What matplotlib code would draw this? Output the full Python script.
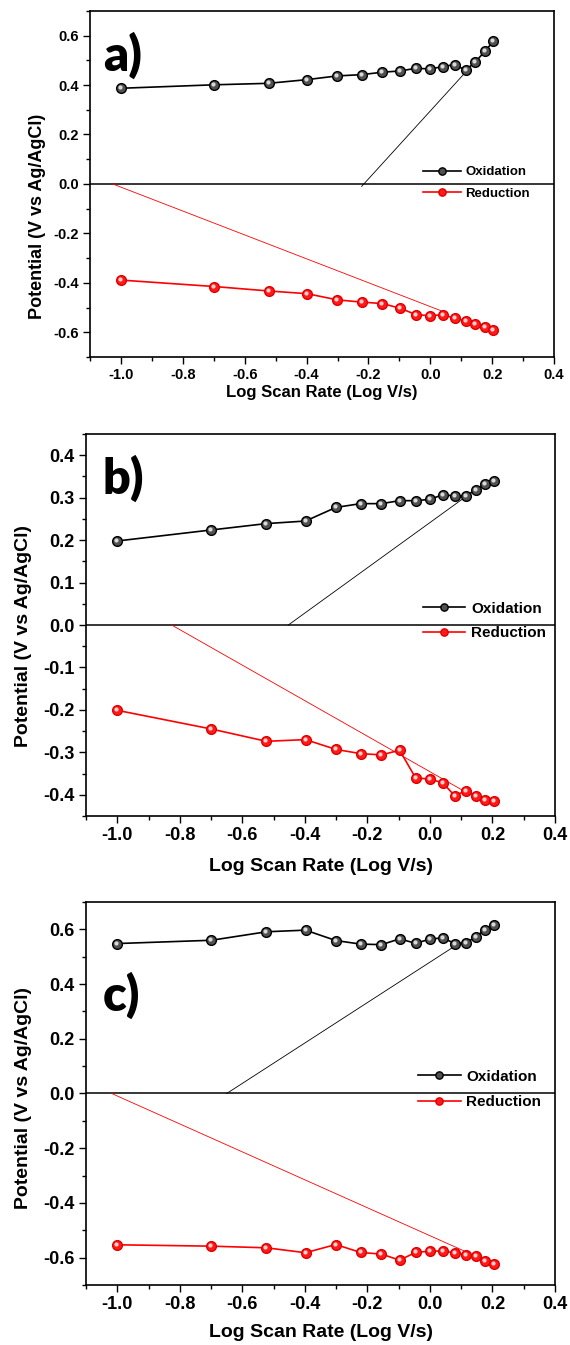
import matplotlib
matplotlib.use("Agg")
import matplotlib.pyplot as plt
from matplotlib.ticker import MultipleLocator
from matplotlib.transforms import offset_copy

# log of scan rate (shared by all three panels)
log_rate = [-1.0, -0.699, -0.523, -0.398, -0.301, -0.222, -0.155, -0.097,
            -0.046, 0.0, 0.041, 0.079, 0.114, 0.146, 0.176, 0.204]

# panel a
ox_a = [0.387, 0.401, 0.407, 0.422, 0.437, 0.442, 0.452, 0.457,
        0.468, 0.465, 0.475, 0.483, 0.460, 0.494, 0.536, 0.577]
red_a = [-0.389, -0.415, -0.433, -0.444, -0.469, -0.478, -0.484, -0.503,
         -0.529, -0.533, -0.529, -0.544, -0.554, -0.566, -0.577, -0.592]
tan_ox_a = ([-0.222, 0.114], [-0.010, 0.452])
tan_red_a = ([-1.027, 0.045], [0.0, -0.518])

# panel b
ox_b = [0.198, 0.224, 0.239, 0.245, 0.277, 0.286, 0.286, 0.293,
        0.293, 0.296, 0.307, 0.304, 0.304, 0.318, 0.332, 0.340]
red_b = [-0.201, -0.245, -0.274, -0.270, -0.293, -0.303, -0.306, -0.295,
         -0.360, -0.363, -0.372, -0.402, -0.391, -0.402, -0.412, -0.414]
tan_ox_b = ([-0.453, 0.110], [0.0, 0.300])
tan_red_b = ([-0.826, 0.118], [0.0, -0.395])

# panel c
ox_c = [0.548, 0.560, 0.591, 0.597, 0.559, 0.546, 0.544, 0.565,
        0.549, 0.564, 0.569, 0.548, 0.550, 0.572, 0.599, 0.615]
red_c = [-0.553, -0.558, -0.564, -0.582, -0.552, -0.581, -0.587, -0.609,
         -0.581, -0.576, -0.576, -0.582, -0.590, -0.594, -0.613, -0.624]
tan_ox_c = ([-0.650, 0.080], [0.0, 0.539])
tan_red_c = ([-1.018, 0.118], [0.0, -0.580])

series_labels = ["Oxidation", "Reduction"]
panel_letters = ["a)", "b)", "c)"]

FONT = "Liberation Sans"

fig = plt.figure(figsize=(5.7, 13.45), dpi=100)

panels = [
    dict(rect=[0.158, 0.7346, 0.814, 0.2573], ox=ox_a, red=red_a,
         tan_ox=tan_ox_a, tan_red=tan_red_a, ylim=(-0.7, 0.7), ymaj=0.2,
         ymin=0.1, fs=(10.5, 12, 13, 9.5), letter=(0.028, 0.873),
         leg=(0.718, 0.503, 2.9, 0.3, 0.68), xlab=-0.104, ylab=(-0.114, 0.405)),
    dict(rect=[0.1509, 0.3933, 0.8228, 0.2840], ox=ox_b, red=red_b,
         tan_ox=tan_ox_b, tan_red=tan_red_b, ylim=(-0.45, 0.45), ymaj=0.1,
         ymin=0.05, fs=(13, 14, 14, 11), letter=(0.036, 0.885),
         leg=(0.7186, 0.5105, 2.75, 0.4, 0.71), xlab=-0.133, ylab=(-0.134, 0.471)),
    dict(rect=[0.1509, 0.0446, 0.8228, 0.2848], ox=ox_c, red=red_c,
         tan_ox=tan_ox_c, tan_red=tan_red_c, ylim=(-0.7, 0.7), ymaj=0.2,
         ymin=0.1, fs=(13, 14, 14, 11), letter=(0.036, 0.755),
         leg=(0.708, 0.5104, 2.8, 0.33, 0.76), xlab=-0.125, ylab=(-0.134, 0.488)),
]

for p, letter in zip(panels, panel_letters):
    ax = fig.add_axes(p["rect"])
    tick_fs, xl_fs, yl_fs, leg_fs = p["fs"]

    # zero line and tangent lines
    ax.axhline(0, color="black", lw=1.1, zorder=1)
    ax.plot(*p["tan_ox"], color="black", lw=0.6, zorder=2)
    ax.plot(*p["tan_red"], color="red", lw=0.6, zorder=2)

    # shaded "sphere" markers
    hl = offset_copy(ax.transData, fig=fig, x=-1.0, y=1.0, units="dots")
    l_ox, = ax.plot(log_rate, p["ox"], color="black", lw=1.2, marker="o",
                    ms=7, mfc="#505050", mec="black", mew=1.0, zorder=3)
    ax.plot(log_rate, p["ox"], ls="none", marker="o", ms=3,
            mfc="#d8d8d8", mec="none", transform=hl, zorder=4)
    l_red, = ax.plot(log_rate, p["red"], color="red", lw=1.2, marker="o",
                     ms=7, mfc="#ff1a1a", mec="#e00000", mew=1.0, zorder=3)
    ax.plot(log_rate, p["red"], ls="none", marker="o", ms=3,
            mfc="#ffd0d0", mec="none", transform=hl, zorder=4)

    ax.set_xlim(-1.1, 0.4)
    ax.set_ylim(*p["ylim"])
    ax.xaxis.set_major_locator(MultipleLocator(0.2))
    ax.xaxis.set_minor_locator(MultipleLocator(0.1))
    ax.yaxis.set_major_locator(MultipleLocator(p["ymaj"]))
    ax.yaxis.set_minor_locator(MultipleLocator(p["ymin"]))
    ax.tick_params(which="both", direction="out", top=False, right=False,
                   width=1.0)
    ax.tick_params(which="major", length=5, pad=3)
    ax.tick_params(which="minor", length=3)
    for s in ax.spines.values():
        s.set_linewidth(1.2)

    ax.xaxis.set_major_formatter(plt.FuncFormatter(lambda v, _: f"{v:.1f}"))
    ax.yaxis.set_major_formatter(plt.FuncFormatter(lambda v, _: f"{v:.1f}"))
    for t in ax.get_xticklabels() + ax.get_yticklabels():
        t.set_fontfamily(FONT)
        t.set_fontweight("bold")
        t.set_fontsize(tick_fs)

    ax.set_xlabel("Log Scan Rate (Log V/s)", family=FONT, weight="bold",
                  fontsize=xl_fs, va="center")
    ax.xaxis.set_label_coords(0.5, p["xlab"])
    ax.set_ylabel("Potential (V vs Ag/AgCl)", family=FONT, weight="bold",
                  fontsize=yl_fs, va="center")
    ax.yaxis.set_label_coords(*p["ylab"])

    ax.text(p["letter"][0], p["letter"][1], letter, transform=ax.transAxes,
            family="Lato", weight="heavy", fontsize=35, ha="left", va="center")

    lx, ly, hlen, hpad, lspace = p["leg"]
    ax.legend([l_ox, l_red], series_labels, loc="center left",
              bbox_to_anchor=(lx, ly), frameon=False, borderpad=0,
              borderaxespad=0, handlelength=hlen, handletextpad=hpad,
              labelspacing=lspace, markerscale=0.75,
              prop=dict(family=FONT, weight="bold", size=leg_fs))

fig.savefig("out.png", dpi=100)
